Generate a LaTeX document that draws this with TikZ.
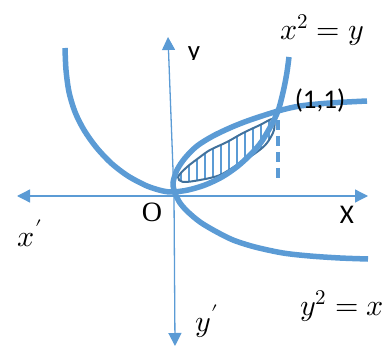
\documentclass[tikz,border=0pt]{standalone}
\usepackage{unicode-math}
\newfontfamily\labelfont{Carlito}
\newfontfamily\originfont{Liberation Serif}
\usetikzlibrary{arrows.meta}
\definecolor{curveblue}{HTML}{5B9BD5}
\definecolor{edgeblue}{HTML}{41719C}
\tikzset{
  axis/.style = {line width=1.3pt, draw=curveblue, -{Triangle[length=13pt,width=13pt]}},
  curve/.style = {line width=5.5pt, draw=curveblue},
  hatch/.style = {line width=1.4pt, draw=curveblue},
  edge/.style = {line width=2pt, draw=edgeblue},
  eqn/.style = {font=\fontsize{30}{34}\selectfont, inner sep=0pt},
  axlabel/.style = {font=\labelfont\fontsize{27}{30}\selectfont, inner sep=0pt}
}

\begin{document}
\begin{tikzpicture}[x=1pt, y=-1pt]
\useasboundingbox (0,0) rectangle (390,347);

% axes
\coordinate (O)  at (174,196);
\coordinate (xl) at (17,196);
\coordinate (xr) at (368,196);
\coordinate (yt) at (168,37);
\coordinate (yb) at (175,346);
\draw[axis] (O) -- (xl);
\draw[axis] (O) -- (xr);
\draw[axis] (O) -- (yt);
\draw[axis] (O) -- (yb);

% shaded part between the curves
\begin{scope}
  \clip plot[smooth cycle] coordinates {(178,177) (187,167) (200,157) (210,150) (227,142)
    (243,133) (260,125) (273,119) (274,130) (267,143) (257,152) (240,163) (220,175)
    (200,180) (183,182)};
  \foreach \x in {181,189,...,273}
    \draw[hatch] (\x,110) -- (\x,190);
\end{scope}
\draw[edge] plot[smooth cycle] coordinates {(178,177) (187,167) (200,157) (210,150) (227,142)
    (243,133) (260,125) (273,119) (274,130) (267,143) (257,152) (240,163) (220,175)
    (200,180) (183,182)};

% x^2 = y
\draw[curve] plot[smooth] coordinates {(65,48) (66,70) (69,92) (75,112) (84,130) (96,147)
  (111,163) (128,176) (147,186) (163,191) (173,192) (188,190) (205,185) (222,177)
  (238,166) (252,153) (262,141) (273,122) (279,108) (284,88) (287,72) (289,57)};
% y^2 = x
\draw[curve] plot[smooth] coordinates {(368,259) (340,258) (310,256) (283,253) (255,247)
  (233,240) (215,231) (200,222) (188,212) (180,203) (175,193) (173,183) (177,170)
  (185,158) (197,146) (213,136) (232,127) (250,120) (278,111) (300,106) (330,103) (367,101)};

\coordinate (P) at (278,120);
\coordinate (Q) at (278,178);
\draw[curve, line width=4.5pt, dash pattern=on 10pt off 6pt] (P) -- (Q);

% labels
\node[eqn] (eqA) at (322,30) {$x^2 = y$};
\node[eqn] (eqB) at (342,306) {$y^2 = x$};
\node[axlabel] (pt) at (320,100) {(1,1)};
\node[axlabel] (xlab) at (347,215) {X};
\begin{scope}
  \clip (180,40) rectangle (210,60);
  \node[axlabel, anchor=base] (ylab) at (194,60) {y};
\end{scope}
\node[inner sep=0pt, font=\originfont\fontsize{28}{32}\selectfont] (olab) at (152,212) {O};
\node[eqn] (xp) at (30,233) {$x'$};
\node[eqn] (yp) at (207,321) {$y'$};

\end{tikzpicture}
\end{document}
